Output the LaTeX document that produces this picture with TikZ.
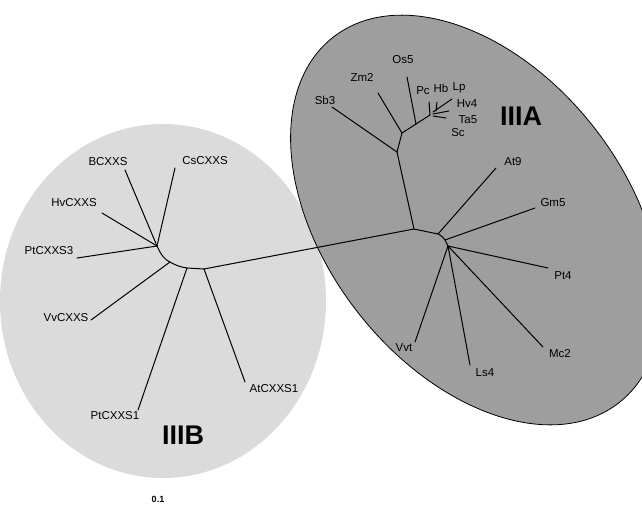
\documentclass[tikz,border=0pt]{standalone}
\usepackage{fontspec}
\setmainfont{Liberation Sans}
\usetikzlibrary{shapes.geometric}
\begin{document}
\begin{tikzpicture}[x=1pt,y=-1pt,
  lab/.style={font=\fontsize{11.5}{12}\selectfont, inner sep=0pt},
  big/.style={font=\fontsize{27}{28}\selectfont\bfseries, inner sep=0pt},
  small/.style={font=\fontsize{9}{10}\selectfont\bfseries, inner sep=0pt},
  br/.style={line width=1pt, line join=round, line cap=round}]
\useasboundingbox (0,0) rectangle (642,512);
\clip (0,0) rectangle (642,512);
% clade ellipses
\node[ellipse, fill=black!14, minimum width=326pt, minimum height=354pt, inner sep=0pt] (cladeB) at (163,301) {};
\node[ellipse, draw=black, line width=0.8pt, fill=black!38, minimum width=464pt, minimum height=300pt, inner sep=0pt, rotate=-52] (cladeA) at (476,220) {};
% clade labels
\node[big] (IIIA) at (521,116) {IIIA};
\node[big] (IIIB) at (183,435) {IIIB};
\node[small] (scale) at (158,499) {0.1};
% ---------- IIIB subtree ----------
\coordinate (b1) at (157,246);
\coordinate (b2) at (170,262);
\coordinate (b3) at (187,268);
\coordinate (b4) at (204,269);
\coordinate (tBC) at (125,170);
\coordinate (tCs) at (175,168);
\coordinate (tHv) at (102,213);
\coordinate (tPl3) at (77,258);
\coordinate (tVv) at (91,320);
\coordinate (tPt1) at (138,410);
\coordinate (tAt1) at (245,382);
\node[lab] (lBC) at (108,162) {BCXXS};
\node[lab] (lCs) at (205,161) {CsCXXS};
\node[lab] (lHv) at (74,203) {HvCXXS};
\node[lab] (lPl3) at (49,251) {PtCXXS3};
\node[lab] (lVv) at (66,318) {VvCXXS};
\node[lab] (lPt1) at (115,416) {PtCXXS1};
\node[lab] (lAt1) at (274,389) {AtCXXS1};
\draw[br] (b1) -- (tBC);
\draw[br] (b1) -- (tCs);
\draw[br] (b1) -- (tHv);
\draw[br] (b1) -- (tPl3);
\draw[br] (b1) .. controls (161,255) and (165,260) .. (b2)
          .. controls (175,265) and (180,267) .. (b3) -- (b4);
\draw[br] (b2) -- (tVv);
\draw[br] (b3) -- (tPt1);
\draw[br] (b4) -- (tAt1);
% ---------- central branch ----------
\coordinate (a0) at (414,229);
\draw[br] (b4) -- (a0);
% ---------- IIIA lower subtree ----------
\coordinate (a1) at (438,234);
\coordinate (a2) at (445,240);
\coordinate (a3) at (448,246);
\coordinate (tAt9) at (496,168);
\coordinate (tGm5) at (535,208);
\coordinate (tPt4) at (548,268);
\coordinate (tMc2) at (543,347);
\coordinate (tLs4) at (470,365);
\coordinate (tVvt) at (415,342);
\node[lab] (lAt9) at (513,162) {At9};
\node[lab] (lGm5) at (553,203) {Gm5};
\node[lab] (lPt4) at (563,276) {Pt4};
\node[lab] (lMc2) at (560,354) {Mc2};
\node[lab] (lLs4) at (485,373) {Ls4};
\node[lab] (lVvt) at (404,348) {Vvt};
\draw[br] (a0) -- (a1) .. controls (442,236) and (444,238) .. (a2)
          .. controls (446,242) and (447,244) .. (a3);
\draw[br] (a1) -- (tAt9);
\draw[br] (a2) -- (tGm5);
\draw[br] (a3) -- (tPt4);
\draw[br] (a3) -- (tMc2);
\draw[br] (a3) -- (tLs4);
\draw[br] (a3) -- (tVvt);
% ---------- IIIA upper subtree ----------
\coordinate (u1) at (397,152);
\coordinate (u2) at (402,133);
\coordinate (u3) at (416,124);
\coordinate (u4) at (430,115);
\coordinate (tSb3) at (332,107);
\coordinate (tZm2) at (378,93);
\coordinate (tOs5) at (407,77);
\coordinate (tPc) at (429,102);
\coordinate (hHb) at (436,111);
\coordinate (tHb) at (437,102);
\coordinate (hLp) at (433,112);
\coordinate (tLp) at (452,99);
\coordinate (hTa) at (433,114);
\coordinate (tTa5) at (449,111);
\coordinate (hSc) at (433,116);
\coordinate (tSc) at (446,118);
\node[lab] (lSb3) at (325,100) {Sb3};
\node[lab] (lZm2) at (362,77) {Zm2};
\node[lab] (lOs5) at (403,60) {Os5};
\node[lab] (lPc) at (423,91) {Pc};
\node[lab] (lHb) at (441,88) {Hb};
\node[lab] (lLp) at (459,88) {Lp};
\node[lab] (lHv4) at (467,104) {Hv4};
\node[lab] (lTa5) at (468,120) {Ta5};
\node[lab] (lSc) at (458,133) {Sc};
\draw[br] (a0) -- (u1);
\draw[br] (u1) -- (tSb3);
\draw[br] (u1) -- (u2);
\draw[br] (u2) -- (tZm2);
\draw[br] (u2) -- (u3);
\draw[br] (u3) -- (tOs5);
\draw[br] (u3) -- (u4);
\draw[br] (u4) -- (tPc);
\draw[br] (hHb) -- (tHb);
\draw[br] (hLp) -- (tLp);
\draw[br] (hTa) -- (tTa5);
\draw[br] (hSc) -- (tSc);
\end{tikzpicture}
\end{document}
